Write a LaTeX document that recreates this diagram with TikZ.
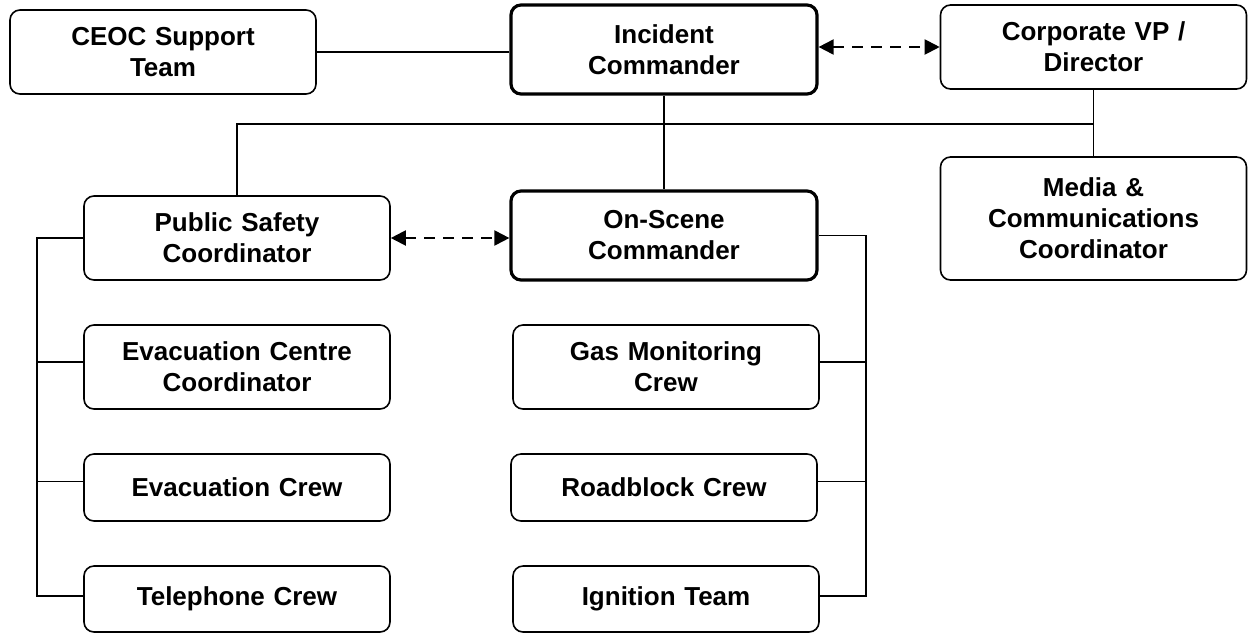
\documentclass[tikz,border=0pt]{standalone}
\usepackage{fontspec}
\setmainfont{Liberation Sans}
\usetikzlibrary{arrows.meta}
\begin{document}
\begin{tikzpicture}[x=1pt,y=-1pt,
  box/.style={draw, line width=1.6pt, rounded corners=10pt, minimum width=306pt,
    inner sep=0pt, align=center, text width=300pt,
    font=\fontsize{26}{31}\selectfont\bfseries},
  bigbox/.style={box, line width=3.2pt},
  conn/.style={line width=1.7pt},
  dasharrow/.style={line width=2pt, dash pattern=on 11pt off 8pt,
    {Triangle[length=15pt,width=15pt]}-{Triangle[length=15pt,width=15pt]}}]
\useasboundingbox (0,0) rectangle (1249,633);
% top row
\node[box, minimum height=84pt] (ceoc) at (163,52) {CEOC Support\\Team};
\node[bigbox, minimum height=89pt] (ic) at (664,49.5) {Incident\\Commander};
\node[box, minimum height=84pt] (corp) at (1093.5,47) {Corporate VP /\\Director};
% second row
\node[box, minimum height=84pt] (psc) at (237,238) {Public Safety\\Coordinator};
\node[bigbox, minimum height=89pt] (osc) at (664,235.5) {On-Scene\\Commander};
\node[box, minimum height=123pt] (media) at (1093.5,218.5) {Media \&\\Communications\\Coordinator};
% left column
\node[box, minimum height=84pt] (evc) at (237,367) {Evacuation Centre\\Coordinator};
\node[box, minimum height=67pt] (evcrew) at (237,487.5) {Evacuation Crew};
\node[box, minimum height=66pt] (tel) at (237,599) {Telephone Crew};
% right column
\node[box, minimum height=84pt] (gas) at (666,367) {Gas Monitoring\\Crew};
\node[box, minimum height=67pt] (road) at (664,487.5) {Roadblock Crew};
\node[box, minimum height=66pt] (ign) at (666,599) {Ignition Team};
% bus coordinates
\coordinate (busR) at (1093.5,124);
\coordinate (lbtop) at (37,238);
\coordinate (lbbot) at (37,596);
\coordinate (rbtop) at (866,235.5);
\coordinate (rbbot) at (866,596);
% connectors
\draw[conn] (ceoc.east) -- (ceoc.east -| ic.west);
\draw[dasharrow] (ic.east |- corp.west) -- (corp.west);
\draw[conn] (ic.south) -- (osc.north);
\draw[conn] (corp.south) -- (media.north);
\draw[conn] (psc.north) |- (busR);
\draw[dasharrow] (psc.east) -- (osc.west |- psc.east);
% left bus
\draw[conn] (psc.west) -- (lbtop) -- (lbbot) -- (lbbot -| tel.west);
\draw[conn] ([yshift=5pt]evc.west) -- ([yshift=5pt]evc.west -| lbtop);
\draw[conn] ([yshift=6pt]evcrew.west) -- ([yshift=6pt]evcrew.west -| lbtop);
% right bus
\draw[conn] (osc.east) -- (rbtop) -- (rbbot) -- (rbbot -| ign.east);
\draw[conn] ([yshift=5pt]gas.east) -- ([yshift=5pt]gas.east -| rbtop);
\draw[conn] ([yshift=6pt]road.east) -- ([yshift=6pt]road.east -| rbtop);
\end{tikzpicture}
\end{document}
